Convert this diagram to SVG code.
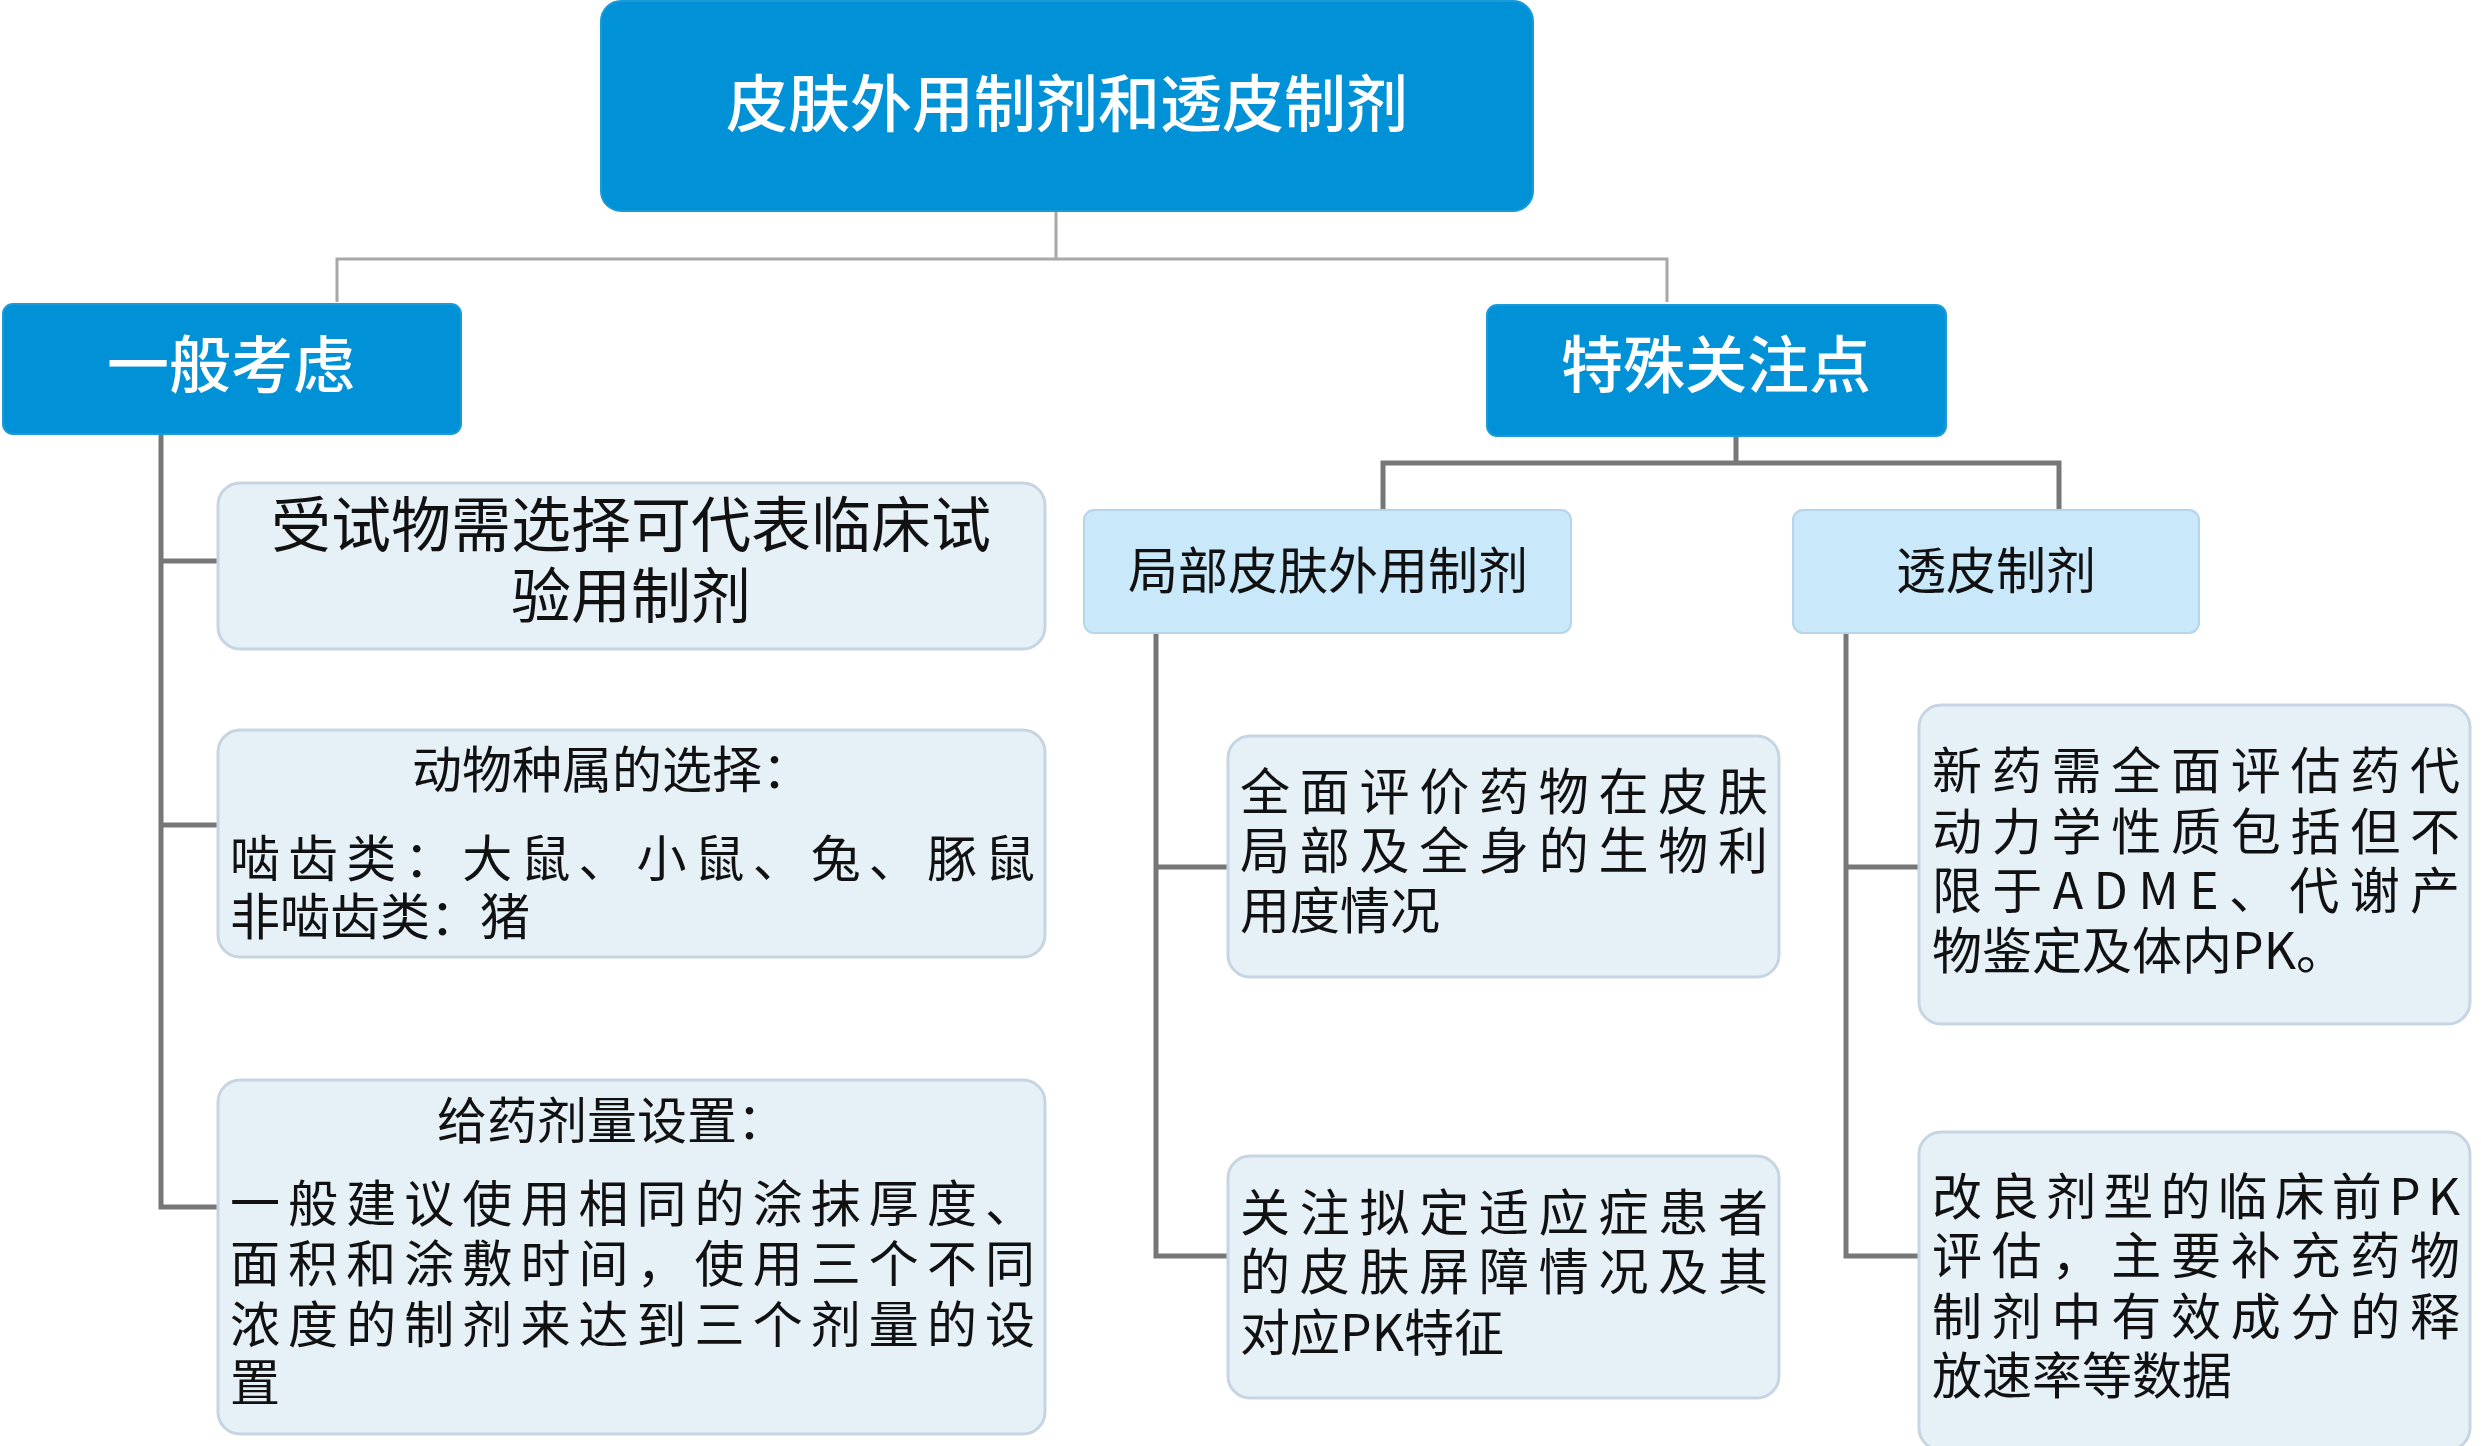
<svg xmlns="http://www.w3.org/2000/svg" width="2481" height="1446" viewBox="0 0 2481 1446">
<style>
text{font-family:"Noto Sans CJK SC","Noto Sans",sans-serif;fill:#111}
.d{fill:#0091d6;stroke:#1a9ad8;stroke-width:2}
.m{fill:#c9e8f9;stroke:#b5d6ea;stroke-width:2}
.l{fill:#e5f0f7;stroke:#c7d5e2;stroke-width:3}
.w{fill:#fff;font-size:62px;font-weight:500}
.b{font-size:50px}
.t{font-size:60px}
.c1{fill:none;stroke:#a8a8a8;stroke-width:3}
.c2{fill:none;stroke:#777;stroke-width:5}
</style>
<rect width="2481" height="1446" fill="#fff"/>
<g id="connectors">
<path class="c1" d="M1056 211V259M337 302V259H1667V302"/>
<path class="c2" d="M1736 436V463M1383 510V463H2059V510"/>
<path class="c2" d="M161 434V1207H218M161 561H218M161 825H218"/>
<path class="c2" d="M1156 633V1256H1228M1156 867H1228"/>
<path class="c2" d="M1846 633V1256H1919M1846 867H1919"/>
</g>
<g id="root"><rect class="d" x="601" y="1" width="932" height="210" rx="20"/><text class="w" x="1067" y="127" text-anchor="middle">皮肤外用制剂和透皮制剂</text></g>
<g id="general"><rect class="d" x="3" y="304" width="458" height="130" rx="10"/><text class="w" x="231" y="388" text-anchor="middle">一般考虑</text></g>
<g id="special"><rect class="d" x="1487" y="305" width="459" height="131" rx="10"/><text class="w" x="1716" y="388" text-anchor="middle">特殊关注点</text></g>
<g id="local"><rect class="m" x="1084" y="510" width="487" height="123" rx="10"/><text class="b" x="1328" y="589" text-anchor="middle">局部皮肤外用制剂</text></g>
<g id="transdermal"><rect class="m" x="1793" y="510" width="406" height="123" rx="10"/><text class="b" x="1996" y="589" text-anchor="middle">透皮制剂</text></g>
<g id="g1"><rect class="l" x="218" y="483" width="827" height="166" rx="22"/>
<text class="t" x="631" y="547" text-anchor="middle">受试物需选择可代表临床试</text><text class="t" x="631" y="618" text-anchor="middle">验用制剂</text></g>
<g id="g2"><rect class="l" x="218" y="730" width="827" height="227" rx="22"/>
<text class="b" x="612" y="788" text-anchor="middle">动物种属的选择：</text>
<text class="b" x="230" y="877" textLength="805" lengthAdjust="spacing">啮齿类：大鼠、小鼠、兔、豚鼠</text>
<text class="b" x="230" y="935">非啮齿类：猪</text></g>
<g id="g3"><rect class="l" x="218" y="1080" width="827" height="354" rx="22"/>
<text class="b" x="612" y="1139" text-anchor="middle">给药剂量设置：</text>
<text class="b" x="230" y="1222" textLength="805" lengthAdjust="spacing">一般建议使用相同的涂抹厚度、</text>
<text class="b" x="230" y="1282" textLength="805" lengthAdjust="spacing">面积和涂敷时间，使用三个不同</text>
<text class="b" x="230" y="1343" textLength="805" lengthAdjust="spacing">浓度的制剂来达到三个剂量的设</text>
<text class="b" x="230" y="1401">置</text></g>
<g id="l1"><rect class="l" x="1228" y="736" width="551" height="241" rx="22"/>
<text class="b" x="1240" y="810" textLength="528" lengthAdjust="spacing">全面评价药物在皮肤</text>
<text class="b" x="1240" y="869" textLength="528" lengthAdjust="spacing">局部及全身的生物利</text>
<text class="b" x="1240" y="929">用度情况</text></g>
<g id="l2"><rect class="l" x="1228" y="1156" width="551" height="242" rx="22"/>
<text class="b" x="1240" y="1231" textLength="528" lengthAdjust="spacing">关注拟定适应症患者</text>
<text class="b" x="1240" y="1290" textLength="528" lengthAdjust="spacing">的皮肤屏障情况及其</text>
<text class="b" x="1240" y="1351">对应PK特征</text></g>
<g id="t1"><rect class="l" x="1919" y="705" width="551" height="319" rx="22"/>
<text class="b" x="1932" y="789" textLength="528" lengthAdjust="spacing">新药需全面评估药代</text>
<text class="b" x="1932" y="850" textLength="528" lengthAdjust="spacing">动力学性质包括但不</text>
<text class="b" x="1932" y="909" textLength="528" lengthAdjust="spacing">限于ADME、代谢产</text>
<text class="b" x="1932" y="969">物鉴定及体内PK。</text></g>
<g id="t2"><rect class="l" x="1919" y="1132" width="551" height="318" rx="22"/>
<text class="b" x="1932" y="1215" textLength="528" lengthAdjust="spacing">改良剂型的临床前PK</text>
<text class="b" x="1932" y="1274" textLength="528" lengthAdjust="spacing">评估，主要补充药物</text>
<text class="b" x="1932" y="1335" textLength="528" lengthAdjust="spacing">制剂中有效成分的释</text>
<text class="b" x="1932" y="1394">放速率等数据</text></g>
</svg>
